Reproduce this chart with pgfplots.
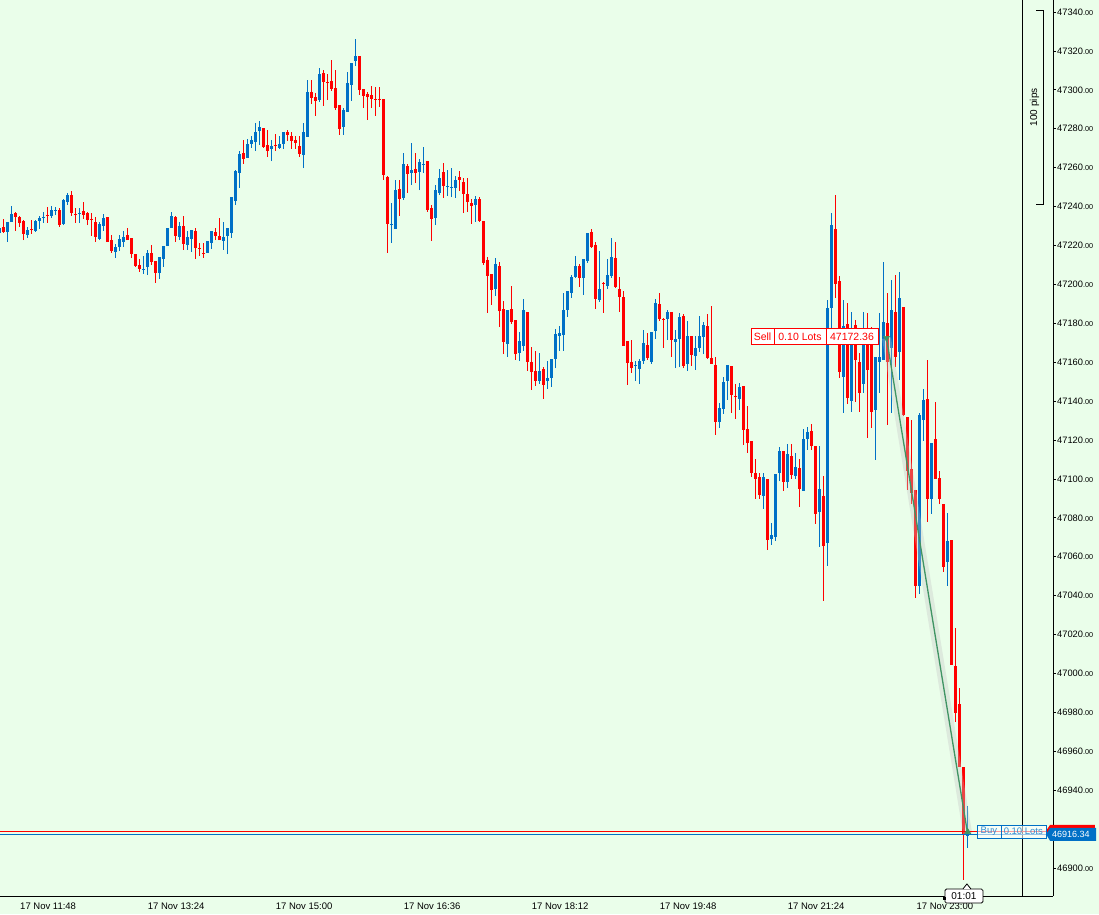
\documentclass[border=0pt]{standalone}
\usepackage{fontspec}
\setmainfont{Liberation Sans}
\usepackage{pgfplots}
\usepackage{pgfplotstable}
\pgfplotsset{compat=1.18}
\definecolor{bg}{HTML}{EAFEEA}
\definecolor{upc}{HTML}{0070C6}
\definecolor{dnc}{HTML}{FF0000}
\definecolor{trade}{HTML}{3F9463}
\newcommand{\pl}[1]{#1{\fontsize{7.2}{8}\selectfont.00}}

% 3-minute candles, x = candle index
\pgfplotstableread{
j O H L C
-1 47226.5 47230.0 47225.4 47229.0
0 47229.5 47233.7 47226.5 47227.0
1 47227.0 47232.1 47221.8 47232.1
2 47232.1 47240.3 47232.1 47236.2
3 47236.8 47237.3 47227.5 47234.7
4 47234.7 47235.2 47229.5 47231.6
5 47232.6 47233.1 47222.8 47225.9
6 47225.4 47229.5 47223.9 47228.0
7 47228.5 47233.1 47225.9 47228.0
8 47227.5 47233.1 47227.0 47232.6
9 47232.6 47235.2 47228.5 47234.2
10 47234.2 47237.3 47231.6 47234.7
11 47235.7 47239.7 47231.6 47235.2
12 47235.2 47240.3 47234.2 47238.3
13 47237.8 47239.7 47235.7 47238.3
14 47238.3 47239.3 47229.5 47230.5
15 47231.1 47243.9 47230.5 47243.4
16 47242.4 47247.0 47240.8 47245.9
17 47245.9 47248.0 47235.2 47236.8
18 47236.2 47239.3 47231.6 47235.7
19 47236.2 47239.3 47231.6 47236.8
20 47237.8 47242.4 47233.7 47235.7
21 47236.8 47237.3 47230.5 47233.1
22 47233.7 47236.8 47224.9 47233.1
23 47232.1 47234.7 47221.8 47224.4
24 47223.4 47232.1 47222.8 47231.1
25 47230.0 47236.2 47227.5 47234.2
26 47234.7 47234.7 47221.8 47221.8
27 47222.8 47225.4 47216.2 47217.2
28 47216.7 47220.8 47213.6 47219.2
29 47219.2 47225.4 47217.2 47223.4
30 47221.8 47227.5 47219.2 47224.4
31 47225.4 47229.0 47222.8 47222.8
32 47223.9 47223.9 47213.6 47215.6
33 47215.6 47215.6 47209.0 47209.5
34 47210.0 47213.1 47206.4 47208.0
35 47207.4 47214.6 47205.4 47208.0
36 47209.0 47217.7 47204.9 47216.2
37 47216.2 47220.3 47210.0 47211.6
38 47212.1 47212.1 47200.7 47205.9
39 47205.9 47214.1 47202.8 47214.1
40 47213.1 47219.7 47209.0 47219.7
41 47219.7 47229.0 47219.7 47229.0
42 47229.0 47237.3 47229.0 47235.2
43 47234.7 47235.2 47221.8 47224.9
44 47224.4 47232.1 47222.8 47230.0
45 47230.0 47235.2 47217.7 47220.8
46 47220.3 47227.5 47217.7 47224.4
47 47223.4 47228.0 47216.7 47228.0
48 47227.5 47229.0 47213.1 47218.7
49 47218.7 47221.3 47214.6 47218.2
50 47216.2 47221.3 47213.6 47215.6
51 47216.2 47222.3 47216.2 47222.3
52 47221.3 47227.5 47218.2 47227.5
53 47227.0 47229.0 47222.8 47224.9
54 47224.9 47234.2 47222.8 47222.8
55 47222.3 47232.1 47217.7 47224.4
56 47224.9 47229.0 47215.6 47229.0
57 47226.5 47244.9 47223.9 47244.9
58 47242.9 47258.8 47240.8 47258.3
59 47257.3 47268.6 47249.6 47267.0
60 47267.5 47274.2 47261.9 47264.5
61 47265.0 47274.8 47265.0 47272.2
62 47272.2 47276.3 47270.1 47274.2
63 47273.2 47283.0 47268.6 47278.4
64 47278.9 47284.0 47271.7 47280.9
65 47280.4 47280.4 47270.1 47270.6
66 47271.7 47279.4 47265.5 47268.6
67 47269.6 47274.2 47263.4 47271.2
68 47271.7 47277.3 47268.6 47271.2
69 47270.1 47276.3 47269.6 47272.2
70 47272.2 47278.4 47269.6 47278.4
71 47278.4 47279.4 47273.7 47276.8
72 47276.3 47278.4 47269.6 47273.7
73 47274.2 47276.3 47269.6 47272.7
74 47271.2 47276.3 47265.5 47267.0
75 47266.5 47283.0 47259.8 47278.4
76 47275.8 47305.1 47275.8 47298.9
77 47298.9 47305.1 47292.7 47295.8
78 47296.3 47298.4 47286.6 47294.3
79 47294.8 47311.2 47293.8 47308.2
80 47308.7 47310.2 47291.7 47304.1
81 47304.1 47308.2 47294.8 47303.5
82 47304.6 47315.4 47299.4 47300.5
83 47301.0 47310.2 47289.7 47290.7
84 47292.2 47292.2 47276.8 47279.9
85 47280.9 47290.7 47276.8 47289.7
86 47288.6 47309.2 47288.6 47303.5
87 47302.5 47313.8 47294.3 47313.8
88 47314.9 47326.2 47312.3 47317.4
89 47317.4 47317.4 47297.4 47300.0
90 47300.5 47300.5 47290.7 47296.9
91 47297.9 47298.9 47284.5 47296.3
92 47297.4 47302.0 47290.7 47295.3
93 47295.3 47301.5 47286.6 47294.8
94 47295.3 47301.5 47291.2 47294.8
95 47295.3 47295.3 47253.7 47256.3
96 47255.2 47255.7 47216.2 47231.1
97 47230.5 47241.9 47221.3 47231.1
98 47228.5 47253.7 47228.5 47248.5
99 47249.1 47253.7 47235.2 47243.9
100 47244.4 47267.5 47243.4 47261.9
101 47260.9 47261.9 47247.0 47256.8
102 47257.3 47272.7 47251.1 47258.8
103 47259.3 47267.5 47252.1 47257.3
104 47257.8 47264.5 47248.5 47262.9
105 47261.4 47270.6 47257.3 47261.9
106 47263.4 47263.4 47237.3 47238.3
107 47239.3 47240.8 47222.3 47233.7
108 47234.2 47251.1 47230.5 47248.5
109 47247.0 47259.3 47245.9 47254.7
110 47257.8 47262.4 47244.4 47250.6
111 47250.1 47258.8 47245.5 47250.6
112 47249.6 47259.8 47244.9 47250.1
113 47249.6 47255.7 47244.4 47253.7
114 47255.2 47258.3 47248.0 47253.7
115 47252.6 47254.7 47236.8 47246.5
116 47246.5 47254.7 47237.3 47242.4
117 47241.9 47243.9 47231.1 47240.3
118 47240.8 47245.5 47232.1 47243.9
119 47243.9 47244.9 47232.1 47232.6
120 47232.6 47232.6 47210.0 47211.0
121 47212.6 47214.1 47185.3 47204.3
122 47205.4 47205.4 47189.4 47197.1
123 47197.7 47213.6 47194.1 47210.5
124 47209.5 47211.5 47178.1 47186.3
125 47187.4 47191.5 47164.2 47170.4
126 47169.4 47186.9 47162.7 47186.9
127 47187.4 47199.2 47179.7 47180.7
128 47181.7 47181.7 47161.2 47164.2
129 47164.8 47175.5 47160.7 47170.9
130 47168.4 47192.5 47165.8 47186.9
131 47185.8 47185.8 47155.5 47160.1
132 47160.1 47167.8 47145.7 47155.0
133 47155.5 47165.8 47147.8 47150.4
134 47150.4 47164.8 47148.8 47155.5
135 47156.5 47157.6 47141.1 47148.3
136 47150.4 47160.7 47146.3 47151.9
137 47151.9 47161.7 47147.3 47161.7
138 47161.7 47177.1 47157.0 47174.5
139 47173.5 47178.6 47165.8 47175.0
140 47174.0 47195.6 47165.8 47186.9
141 47186.9 47196.6 47183.3 47196.6
142 47195.6 47204.9 47193.0 47203.8
143 47203.8 47214.6 47203.3 47209.5
144 47209.5 47210.5 47198.7 47203.3
145 47203.3 47213.1 47194.6 47213.1
146 47212.0 47226.4 47211.0 47226.4
147 47227.0 47228.5 47218.7 47219.2
148 47220.3 47221.8 47187.4 47192.5
149 47192.0 47217.2 47191.0 47197.7
150 47200.7 47201.2 47185.3 47200.2
151 47199.2 47213.1 47197.7 47204.9
152 47204.3 47223.9 47203.3 47214.1
153 47213.6 47221.8 47198.2 47198.7
154 47197.7 47203.8 47185.8 47193.5
155 47193.5 47196.6 47168.4 47168.4
156 47170.9 47170.9 47148.3 47159.6
157 47160.1 47171.4 47154.5 47157.0
158 47158.1 47160.7 47150.4 47158.6
159 47156.5 47161.7 47148.8 47160.7
160 47160.7 47176.6 47159.1 47169.9
161 47168.9 47175.0 47161.2 47162.2
162 47160.1 47175.5 47159.1 47175.5
163 47176.1 47192.5 47172.0 47190.5
164 47189.9 47195.6 47181.2 47182.2
165 47182.2 47182.7 47167.3 47181.7
166 47182.2 47186.9 47171.4 47185.8
167 47185.8 47185.8 47162.7 47171.4
168 47170.4 47176.6 47157.0 47171.9
169 47171.9 47185.3 47157.5 47183.3
170 47183.8 47184.8 47157.0 47158.1
171 47159.1 47181.2 47155.5 47173.5
172 47173.5 47173.5 47158.1 47163.7
173 47163.2 47173.5 47156.0 47167.3
174 47167.3 47183.8 47165.3 47173.5
175 47173.0 47180.7 47164.2 47179.1
176 47178.6 47184.8 47161.7 47162.2
177 47162.2 47188.9 47159.1 47159.1
178 47158.6 47162.7 47122.6 47129.3
179 47129.3 47139.1 47126.2 47136.5
180 47136.0 47152.4 47133.4 47149.9
181 47150.4 47158.6 47140.6 47158.6
182 47158.1 47158.1 47133.9 47143.2
183 47142.7 47148.8 47130.8 47142.1
184 47141.1 47149.3 47135.5 47147.3
185 47147.8 47147.8 47117.5 47125.2
186 47125.7 47137.5 47113.4 47118.5
187 47119.5 47119.5 47101.0 47103.1
188 47103.1 47110.3 47089.7 47100.0
189 47101.0 47103.1 47089.7 47091.8
190 47091.3 47103.1 47084.6 47101.0
191 47100.0 47100.0 47063.5 47068.6
192 47069.2 47077.4 47066.1 47071.2
193 47070.2 47102.6 47068.1 47102.6
194 47103.1 47116.4 47098.9 47114.4
195 47114.4 47114.4 47093.8 47098.5
196 47098.5 47118.0 47095.4 47112.8
197 47111.8 47118.0 47100.0 47102.1
198 47101.5 47113.4 47100.0 47106.2
199 47105.6 47110.3 47085.6 47094.9
200 47093.8 47125.7 47093.8 47120.5
201 47120.5 47126.7 47114.9 47124.1
202 47124.7 47128.3 47114.9 47116.9
203 47116.9 47116.9 47076.9 47082.0
204 47083.0 47116.9 47065.0 47094.9
205 47091.3 47101.5 47037.3 47065.5
206 47067.1 47192.0 47055.3 47187.9
207 47187.9 47236.7 47168.9 47230.5
208 47228.5 47245.9 47193.0 47200.2
209 47201.8 47204.3 47151.9 47155.0
210 47152.4 47192.0 47133.9 47178.6
211 47179.7 47190.5 47138.5 47141.6
212 47140.1 47185.8 47134.4 47175.5
213 47179.1 47181.7 47139.6 47161.2
214 47160.1 47164.8 47134.4 47144.2
215 47148.8 47185.8 47144.2 47170.4
216 47175.5 47185.3 47121.1 47156.0
217 47174.0 47178.1 47126.2 47134.4
218 47135.5 47162.7 47109.8 47162.7
219 47160.1 47185.3 47144.2 47162.7
220 47161.2 47211.5 47161.2 47180.7
221 47180.2 47195.6 47127.8 47160.1
222 47167.3 47202.3 47133.9 47186.9
223 47185.8 47204.9 47157.6 47162.7
224 47165.3 47206.4 47150.9 47193.0
225 47188.4 47188.4 47132.4 47132.9
226 47131.9 47131.9 47094.3 47104.1
227 47105.1 47130.3 47087.1 47092.8
228 47094.3 47094.3 47038.8 47045.0
229 47045.0 47133.9 47040.9 47132.9
230 47130.3 47146.3 47119.5 47140.6
231 47141.1 47161.2 47077.9 47089.7
232 47089.7 47118.5 47082.0 47118.5
233 47120.5 47139.6 47100.0 47100.0
234 47100.5 47104.1 47087.1 47089.7
235 47087.1 47087.1 47052.2 47054.8
236 47057.3 47082.5 47045.0 47068.1
237 47068.6 47068.6 47004.4 47004.4
238 47003.9 47023.4 46975.1 46979.7
239 46984.3 46992.6 46952.0 46952.0
240 46952.0 46952.0 46893.9 46917.5
241 46916.5 46931.9 46910.3 46918.5
}\candles

\begin{document}
\begin{tikzpicture}
\useasboundingbox (0,-18pt) rectangle (1099pt,896pt);
\fill[bg] (0,-18pt) rectangle (1099pt,896pt);
\begin{axis}[
  scale only axis,
  width=1053pt, height=896pt,
  xmin=-0.8325, xmax=262.42,
  ymin=46885.6, ymax=47346.17,
  scaled x ticks=false, scaled y ticks=false,
  axis x line*=bottom, axis y line*=right,
  axis line style={black, line width=0.8pt},
  clip=false,
  xtick={11.2,43.2,75.2,107.2,139.2,171.2,203.2,235.4},
  xticklabels={17 Nov 11:48,17 Nov 13:24,17 Nov 15:00,17 Nov 16:36,17 Nov 18:12,17 Nov 19:48,17 Nov 21:24,17 Nov 23:00},
  xtick style={draw=none},
  ytick={46900,46940,46960,46980,47000,47020,47040,47060,47080,47100,47120,47140,47160,47180,47200,47220,47240,47260,47280,47300,47320,47340},
  yticklabels={\pl{46900},\pl{46940},\pl{46960},\pl{46980},\pl{47000},\pl{47020},\pl{47040},\pl{47060},\pl{47080},\pl{47100},\pl{47120},\pl{47140},\pl{47160},\pl{47180},\pl{47200},\pl{47220},\pl{47240},\pl{47260},\pl{47280},\pl{47300},\pl{47320},\pl{47340}},
  tick align=outside,
  major tick length=3pt,
  ytick style={black, line width=0.7pt},
  yticklabel style={font=\fontsize{9.3}{10}\selectfont, anchor=west, inner sep=1pt},
  xticklabel style={font=\fontsize{9.5}{11}\selectfont, inner sep=1pt, yshift=-3pt},
  candle/.style={draw=none, mark=none, forget plot,
    error bars/y dir=plus, error bars/y explicit, error bars/error mark=none},
]
% wicks
\addplot[candle,
  restrict expr to domain={\thisrow{C}-\thisrow{O}}{0:100000},
  error bars/error bar style={draw=upc, line width=1pt}]
  table[x=j, y=L, y error expr=\thisrow{H}-\thisrow{L}] {\candles};
\addplot[candle,
  restrict expr to domain={\thisrow{O}-\thisrow{C}}{0.0001:100000},
  error bars/error bar style={draw=dnc, line width=1pt}]
  table[x=j, y=L, y error expr=\thisrow{H}-\thisrow{L}] {\candles};
% bodies
\addplot[candle,
  restrict expr to domain={\thisrow{C}-\thisrow{O}}{0:100000},
  error bars/error bar style={draw=upc, line width=3pt}]
  table[x=j, y expr={min(\thisrow{O},\thisrow{C})}, y error expr={max(abs(\thisrow{C}-\thisrow{O}),0.6)}] {\candles};
\addplot[candle,
  restrict expr to domain={\thisrow{O}-\thisrow{C}}{0.0001:100000},
  error bars/error bar style={draw=dnc, line width=3pt}]
  table[x=j, y expr={min(\thisrow{O},\thisrow{C})}, y error expr={max(abs(\thisrow{C}-\thisrow{O}),0.6)}] {\candles};

% right-hand marker line and pips ruler
\draw[black, line width=0.8pt] (axis cs:254.67,46885.6) -- (axis cs:254.67,47346.17);
\draw[black, line width=0.8pt] (axis cs:258.2,47341) -- (axis cs:259.9,47341) -- (axis cs:259.9,47241) -- (axis cs:258.2,47241);
\node[rotate=90, font=\fontsize{10}{12}\selectfont, inner sep=0pt] at (axis cs:257.8,47291) {100 pips};

% trade: sell 47172.36 -> buy 46916.34
\addplot[draw=gray!45, line width=9pt, opacity=0.35, forget plot] coordinates {(220.8,47172.36) (241.1,46917.3)};
\addplot[trade, line width=1.3pt, forget plot] coordinates {(220.8,47172.36) (241.1,46917.3)};
\addplot[only marks, mark=triangle*, mark size=3.5pt, trade, mark options={rotate=180}, forget plot] coordinates {(220.8,47172.36)};
\addplot[only marks, mark=triangle*, mark size=3.5pt, trade, forget plot] coordinates {(241.1,46918.6)};

% bid / ask lines
\draw[dnc, line width=0.8pt] (axis cs:-0.83,46918.8) -- (axis cs:261.6,46918.8);
\draw[upc, line width=0.8pt] (axis cs:-0.83,46917.1) -- (axis cs:261.6,46917.1);

% price tags
\fill[dnc] (axis cs:260.7,46919.2) -- (axis cs:261.7,46922.2) -- (axis cs:272.9,46922.2) -- (axis cs:272.9,46916.0) -- (axis cs:261.7,46916.0) -- cycle;
\fill[upc] (axis cs:260.7,46917.3) -- (axis cs:261.7,46920.6) -- (axis cs:273.2,46920.6) -- (axis cs:273.2,46913.9) -- (axis cs:261.7,46913.9) -- cycle;
\node[white, font=\fontsize{9}{10}\selectfont, inner sep=0pt] at (axis cs:266.9,46917.2) {46916.34};

% sell label
\draw[dnc, fill=white, line width=0.9pt] (axis cs:186.92,47177.1) rectangle (axis cs:218.67,47168.9);
\draw[dnc, line width=0.9pt] (axis cs:192.67,47177.1) -- (axis cs:192.67,47168.9);
\draw[dnc, line width=0.9pt] (axis cs:205.67,47177.1) -- (axis cs:205.67,47168.9);
\node[dnc, font=\fontsize{10.5}{12}\selectfont, inner sep=0pt] at (axis cs:189.8,47173.0) {Sell};
\node[dnc, font=\fontsize{10.5}{12}\selectfont, inner sep=0pt] at (axis cs:199.17,47173.0) {0.10 Lots};
\node[dnc, font=\fontsize{10.5}{12}\selectfont, inner sep=0pt] at (axis cs:212.17,47173.0) {47172.36};

% buy label
\draw[upc, fill=white, fill opacity=0.6, line width=0.8pt] (axis cs:243.4,46922.1) rectangle (axis cs:260.67,46915.4);
\draw[upc, line width=0.8pt] (axis cs:249.4,46922.1) -- (axis cs:249.4,46915.4);
\node[upc!80, font=\fontsize{9.5}{11}\selectfont, inner sep=0pt] at (axis cs:246.4,46918.7) {Buy};
\node[upc!80, font=\fontsize{9.5}{11}\selectfont, inner sep=0pt] at (axis cs:255.0,46918.7) {0.10 Lots};

% countdown box
\draw[black, fill=white, line width=0.8pt, rounded corners=1.5pt] (axis cs:235.4,46889.2) rectangle (axis cs:244.9,46882.0);
\draw[black, fill=white, line width=0.8pt] (axis cs:239.9,46889.2) -- (axis cs:240.9,46891.8) -- (axis cs:241.9,46889.2);
\fill[black] (axis cs:234.9,46885.1) rectangle (axis cs:235.7,46883.6);
\node[font=\fontsize{10}{12}\selectfont, inner sep=0pt] at (axis cs:240.15,46885.6) {01:01};
\end{axis}
\end{tikzpicture}
\end{document}
